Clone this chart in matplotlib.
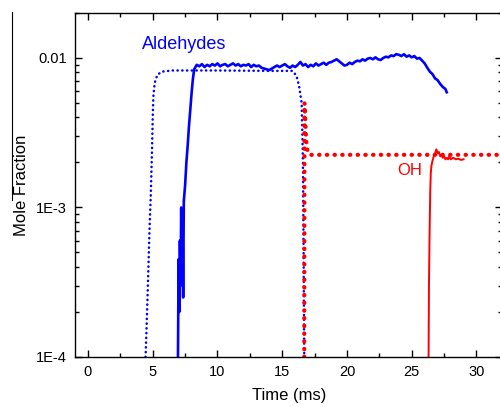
import numpy as np
import matplotlib
matplotlib.use('Agg')
import matplotlib.pyplot as plt
from matplotlib.ticker import MultipleLocator, FixedLocator, FixedFormatter, LogLocator, NullFormatter
from matplotlib.lines import Line2D

plt.rcParams['font.family'] = ['Liberation Sans', 'DejaVu Sans']

# Aldehydes, experiment: noisy rise then plateau (values in 1e-3)
ald_rise_t = [6.95, 7.00, 7.05, 7.10, 7.15, 7.20, 7.25, 7.30, 7.35, 7.40, 7.50,
              7.60, 7.70, 7.80, 7.90, 8.00, 8.10]
ald_rise_v = [0.10, 0.45, 0.20, 0.60, 0.30, 1.00, 0.40, 0.90, 0.25, 1.10, 1.40,
              2.00, 2.60, 3.50, 4.50, 5.80, 7.20]
ald_t0, ald_dt = 8.2, 0.2
ald_plateau_v = [8.4, 9.0, 8.8, 9.1, 8.7, 9.0, 8.8, 9.1, 8.9, 9.2,
                 8.8, 9.0, 9.1, 8.8, 9.0, 9.2, 8.9, 9.1, 8.8, 9.0,
                 8.9, 9.1, 8.7, 9.0, 8.8, 8.9, 8.6, 8.5, 8.4, 8.3,
                 8.5, 8.7, 8.9, 8.7, 8.9, 9.1, 8.8, 8.6, 8.9, 8.7,
                 9.0, 9.4, 8.9, 9.1, 8.7, 9.0, 8.8, 9.2, 8.9, 9.1,
                 9.3, 9.0, 9.3, 9.4, 9.6, 9.8, 9.5, 9.2, 8.9, 9.0,
                 9.3, 9.1, 9.4, 9.6, 9.5, 9.8, 9.6, 9.9, 10.0, 9.8,
                 10.1, 9.8, 9.7, 10.0, 10.2, 10.1, 10.4, 10.3, 10.6, 10.5,
                 10.3, 10.6, 10.2, 10.4, 10.1, 10.3, 9.9, 10.0, 9.6, 9.2,
                 8.6, 8.1, 7.8, 7.3, 7.1, 6.7, 6.4, 6.2]

# Aldehydes, model (dotted)
ald_mod_t = [4.45, 4.60, 4.75, 4.85, 4.95, 5.00, 5.05, 5.15, 5.35, 5.70, 6.50,
             10.0, 14.0, 15.8, 16.1, 16.3, 16.5, 16.6, 16.65, 16.7]
ald_mod_v = [0.10, 0.25, 0.70, 1.20, 2.50, 4.00, 5.50, 6.80, 7.70, 8.10, 8.25,
             8.25, 8.20, 8.20, 7.60, 6.50, 5.00, 2.00, 0.50, 0.10]

# OH, model (dotted)
oh_mod_t = [16.70, 16.72, 16.75, 16.80, 16.85, 16.95, 17.10, 33.0]
oh_mod_v = [0.10, 5.00, 4.50, 3.50, 2.80, 2.40, 2.25, 2.25]

# OH, experiment
oh_exp_t = [26.30, 26.33, 26.37, 26.40, 26.43, 26.47, 26.52, 26.60, 26.70, 26.80,
            26.90, 27.00, 27.10, 27.20, 27.30, 27.40, 27.50, 27.60, 27.70, 27.80,
            27.90, 28.00, 28.20, 28.40, 28.60, 28.80, 29.00]
oh_exp_v = [0.10, 0.30, 0.60, 0.90, 1.30, 1.70, 1.90, 2.05, 2.20, 2.30,
            2.45, 2.30, 2.35, 2.20, 2.25, 2.15, 2.20, 2.10, 2.15, 2.10,
            2.20, 2.10, 2.15, 2.10, 2.12, 2.08, 2.10]

ald_plateau_t = ald_t0 + ald_dt * np.arange(len(ald_plateau_v))
ald_t = np.concatenate([ald_rise_t, ald_plateau_t, [27.7]])
ald_v = np.concatenate([ald_rise_v, ald_plateau_v, [5.9]]) * 1e-3

fig = plt.figure(figsize=(5.0, 4.07), dpi=100)
ax = fig.add_axes([0.15, 0.1229, 0.8548, 0.8452])

ax.plot(ald_mod_t, np.array(ald_mod_v) * 1e-3, color='#0000ff', lw=1.8,
        linestyle=(0, (0.1, 1.8)), dash_capstyle='round')
ax.plot(oh_mod_t, np.array(oh_mod_v) * 1e-3, color='#ff0000', lw=3.0,
        linestyle=(0, (0.1, 1.75)), dash_capstyle='round')
ax.plot(ald_t, ald_v, color='#0000ff', lw=1.9)
ax.plot(oh_exp_t, np.array(oh_exp_v) * 1e-3, color='#ff0000', lw=1.4)

ax.set_yscale('log')
ax.set_xlim(-1, 32)
ax.set_ylim(1e-4, 0.02)

ax.xaxis.set_major_locator(MultipleLocator(5))
ax.xaxis.set_minor_locator(MultipleLocator(2.5))
ax.yaxis.set_major_locator(FixedLocator([1e-4, 1e-3, 1e-2]))
ax.yaxis.set_major_formatter(FixedFormatter(['1E-4', '1E-3', '0.01']))
ax.yaxis.set_minor_locator(LogLocator(base=10, subs=np.arange(2, 10)))
ax.yaxis.set_minor_formatter(NullFormatter())

ax.tick_params(which='both', direction='in', top=True, right=True,
               labelsize=10.5, width=1, pad=6)
ax.tick_params(which='major', length=5)
ax.tick_params(which='minor', length=3)
for s in ax.spines.values():
    s.set_linewidth(1)

ax.set_xlabel('Time (ms)', fontsize=12, labelpad=6)
ax.set_ylabel('Mole Fraction', fontsize=12, labelpad=5)

ax.text(4.2, 0.0115, 'Aldehydes', color='#0000ff', fontsize=13)
ax.text(23.9, 0.00165, 'OH', color='#ff0000', fontsize=12)

# stray frame line from the neighbouring panel
fig.add_artist(Line2D([12 / 500, 12 / 500], [1 - 12 / 407, 1 - 200 / 407],
                      transform=fig.transFigure, color='black', lw=0.8))

fig.savefig('out.png', dpi=100)
